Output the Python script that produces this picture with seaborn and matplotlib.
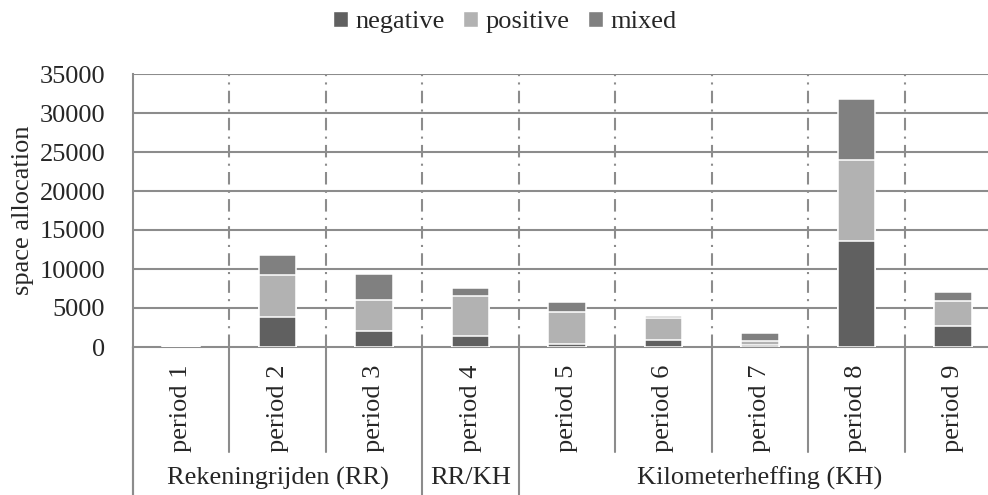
import numpy as np
import pandas as pd
import matplotlib
matplotlib.use("Agg")
import matplotlib.pyplot as plt
import matplotlib.transforms as mtransforms
from matplotlib.patches import Patch
import seaborn as sns

# Data
periods = ["period 1", "period 2", "period 3", "period 4", "period 5",
           "period 6", "period 7", "period 8", "period 9"]
negative = [20, 3850, 2100, 1450, 350, 900, 250, 13550, 2700]
positive = [40, 5340, 3930, 5090, 4180, 2780, 560, 10460, 3240]
mixed = [30, 2570, 3370, 1060, 1280, 330, 1020, 7750, 1070]
groups = ["Rekeningrijden (RR)", "RR/KH", "Kilometerheffing (KH)"]
group_sizes = [3, 1, 5]
y_ticks = [0, 5000, 10000, 15000, 20000, 25000, 30000, 35000]

# Colours
C_NEG = "#606060"
C_POS = "#b2b2b2"
C_MIX = "#808080"
GRID = "#8c8c8c"

sns.set_style("white")
plt.rcParams["font.family"] = ["Liberation Serif", "DejaVu Serif"]
FS = 19

df = pd.DataFrame({"period": periods, "negative": negative,
                   "positive": positive, "mixed": mixed})
df["top_pos"] = df["negative"] + df["positive"]
df["top_mix"] = df["top_pos"] + df["mixed"]

fig = plt.figure(figsize=(9.88, 4.95), dpi=100)
ax = fig.add_axes([133 / 988, 148 / 495, (1001 - 133) / 988, 273 / 495])

# stacked bars drawn as overlapping cumulative totals
for col, colour in [("top_mix", C_MIX), ("top_pos", C_POS), ("negative", C_NEG)]:
    sns.barplot(data=df, x="period", y=col, color=colour, width=0.39,
                edgecolor="white", linewidth=1.1, ax=ax, zorder=3)

n = len(periods)
ax.set_xlim(-0.5, n - 0.5)
ax.set_ylim(0, 35000)
ax.set_yticks(y_ticks)
ax.set_yticklabels([str(t) for t in y_ticks], fontsize=FS)
ax.tick_params(axis="y", length=8, width=1.5, color=GRID, pad=12, direction="out")
ax.tick_params(axis="x", length=0, labelbottom=False)
ax.set_xlabel("")
ax.set_ylabel("space allocation", fontsize=FS)
ax.yaxis.set_label_coords(-(133 - 34) / 868, 0.5)

for s in ["top", "right"]:
    ax.spines[s].set_visible(False)
ax.spines["left"].set_color(GRID)
ax.spines["left"].set_linewidth(1.5)
ax.spines["bottom"].set_color(GRID)
ax.spines["bottom"].set_linewidth(1.5)

# horizontal gridlines
for t in y_ticks[1:]:
    ax.axhline(t, color=GRID, linewidth=1.5, zorder=1)

# dash-dot separators inside the plot
for i in range(n - 1):
    ax.axvline(i + 0.5, color=GRID, linewidth=1.5,
               linestyle=(0, (6, 3, 1, 3)), zorder=1)

# category axis below the plot
trans = mtransforms.blended_transform_factory(ax.transData, ax.transAxes)
px = 1 / 273.0
y_sep = -(452 - 347) * px
y_bot = -(495 - 347) * px

group_edges = np.cumsum([0] + group_sizes) - 0.5
for i in range(n + 1):
    x = i - 0.5
    y_end = y_bot if x in group_edges else y_sep
    ax.plot([x, x], [0, y_end], transform=trans, color=GRID,
            linewidth=1.5, clip_on=False)
ax.plot([-0.5, -0.5], [0, y_bot], transform=trans, color=GRID,
        linewidth=1.5, clip_on=False)

for i, p in enumerate(periods):
    ax.text(i, -(408 - 347) * px, p, transform=trans, rotation=90,
            ha="center", va="center", fontsize=FS)

for k, g in enumerate(groups):
    centre = (group_edges[k] + group_edges[k + 1]) / 2
    ax.text(centre, -(478 - 347) * px, g, transform=trans,
            ha="center", va="center", fontsize=FS)

# legend
handles = [Patch(facecolor=C_NEG, edgecolor="white"),
           Patch(facecolor=C_POS, edgecolor="white"),
           Patch(facecolor=C_MIX, edgecolor="white")]
fig.legend(handles, ["negative", "positive", "mixed"], loc="center",
           bbox_to_anchor=(505 / 988, 1 - 22 / 495), ncol=3, frameon=False,
           fontsize=FS, handlelength=0.55, handleheight=0.55,
           handletextpad=0.3, columnspacing=0.7)

fig.savefig("out.png", dpi=100)
